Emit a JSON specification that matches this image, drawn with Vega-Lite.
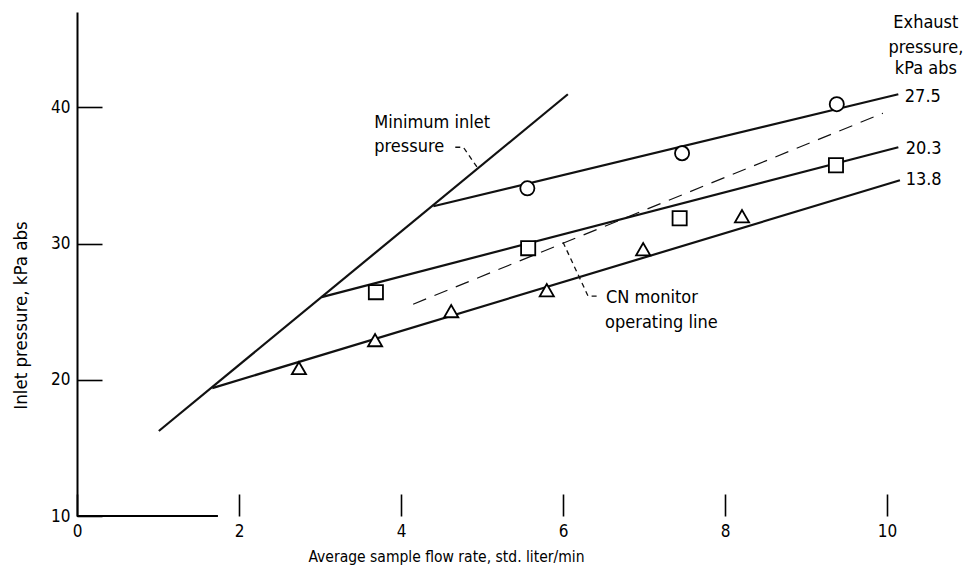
{
  "$schema": "https://vega.github.io/schema/vega-lite/v6.json",
  "width": 891,
  "height": 504,
  "autosize": {"type": "none"},
  "padding": {"left": 77, "top": 12, "right": 1, "bottom": 57},
  "background": "white",
  "config": {"view": {"stroke": null}, "axis": {"grid": false}},
  "datasets": {
    "curves": [
      {"series": "min", "x": 1.01, "y": 16.24},
      {"series": "min", "x": 6.06, "y": 40.96},
      {"series": "27.5", "x": 4.40, "y": 32.74},
      {"series": "27.5", "x": 10.14, "y": 40.96},
      {"series": "20.3", "x": 3.02, "y": 26.07},
      {"series": "20.3", "x": 10.14, "y": 37.07},
      {"series": "13.8", "x": 1.67, "y": 19.39},
      {"series": "13.8", "x": 10.16, "y": 34.65}
    ],
    "operating": [
      {"x": 4.15, "y": 25.55},
      {"x": 9.95, "y": 39.57}
    ],
    "leaders": [
      {"series": "a", "x": 4.67, "y": 37.07},
      {"series": "a", "x": 4.77, "y": 37.07},
      {"series": "a", "x": 4.94, "y": 35.60},
      {"series": "b", "x": 6.00, "y": 30.10},
      {"series": "b", "x": 6.31, "y": 26.14},
      {"series": "b", "x": 6.46, "y": 26.14}
    ],
    "points": [
      {"series": "27.5", "x": 5.56, "y": 34.06},
      {"series": "27.5", "x": 7.47, "y": 36.63},
      {"series": "27.5", "x": 9.38, "y": 40.23},
      {"series": "20.3", "x": 3.69, "y": 26.43},
      {"series": "20.3", "x": 5.57, "y": 29.66},
      {"series": "20.3", "x": 7.44, "y": 31.86},
      {"series": "20.3", "x": 9.37, "y": 35.75},
      {"series": "13.8", "x": 2.74, "y": 20.86},
      {"series": "13.8", "x": 3.68, "y": 22.91},
      {"series": "13.8", "x": 4.62, "y": 25.04},
      {"series": "13.8", "x": 5.80, "y": 26.58},
      {"series": "13.8", "x": 6.99, "y": 29.59},
      {"series": "13.8", "x": 8.21, "y": 32.01}
    ],
    "notes": [
      {"text": "Minimum inlet", "x": 3.67, "y": 38.47},
      {"text": "pressure", "x": 3.67, "y": 36.71},
      {"text": "CN monitor", "x": 6.53, "y": 25.63},
      {"text": "operating line", "x": 6.52, "y": 23.79},
      {"text": "27.5", "x": 10.22, "y": 40.37},
      {"text": "20.3", "x": 10.23, "y": 36.56},
      {"text": "13.8", "x": 10.23, "y": 34.28}
    ],
    "header": [
      {"text": "Exhaust", "x": 10.48, "y": 45.80},
      {"text": "pressure,", "x": 10.48, "y": 43.97},
      {"text": "kPa abs", "x": 10.48, "y": 42.43}
    ],
    "baseline": [
      {"x": 0, "x2": 1.74, "y": 10}
    ]
  },
  "encoding": {
    "x": {
      "field": "x",
      "type": "quantitative",
      "scale": {"domain": [0, 11], "nice": false, "zero": false},
      "axis": {
        "values": [0, 2, 4, 6, 8, 10],
        "domain": false,
        "tickSize": -22,
        "tickWidth": 1.6,
        "tickColor": "black",
        "labelFlush": false,
        "labelFont": "DejaVu Sans Condensed",
        "labelFontSize": 17,
        "labelColor": "black",
        "labelPadding": 29,
        "title": "Average sample flow rate,  std. liter/min",
        "titleFont": "DejaVu Sans Condensed",
        "titleFontSize": 15.5,
        "titleFontWeight": "normal",
        "titleColor": "black",
        "titleX": 369,
        "titleY": 45,
        "titleBaseline": "alphabetic",
        "titleAlign": "center"
      }
    },
    "y": {
      "field": "y",
      "type": "quantitative",
      "scale": {"domain": [10, 47], "nice": false, "zero": false},
      "axis": {
        "values": [10, 20, 30, 40],
        "domain": true,
        "domainColor": "black",
        "domainWidth": 2,
        "tickSize": -25,
        "tickWidth": 1.6,
        "tickColor": "black",
        "labelFont": "DejaVu Sans Condensed",
        "labelFontSize": 17,
        "labelColor": "black",
        "labelPadding": 32,
        "title": "Inlet pressure,  kPa abs",
        "titleFont": "DejaVu Sans Condensed",
        "titleFontSize": 18.5,
        "titleFontWeight": "normal",
        "titleColor": "black",
        "titleX": -57,
        "titleY": 303,
        "titleBaseline": "middle",
        "titleAlign": "center",
        "titleAngle": -90
      }
    }
  },
  "layer": [
    {
      "data": {"name": "baseline"},
      "mark": {"type": "rule", "stroke": "black", "strokeWidth": 2},
      "encoding": {"x2": {"field": "x2"}}
    },
    {
      "data": {"name": "curves"},
      "mark": {"type": "line", "stroke": "#111", "strokeWidth": 2.2},
      "encoding": {"detail": {"field": "series"}}
    },
    {
      "data": {"name": "operating"},
      "mark": {"type": "line", "stroke": "#111", "strokeWidth": 1.2, "strokeDash": [14, 9]},
      "encoding": {}
    },
    {
      "data": {"name": "leaders"},
      "mark": {"type": "line", "stroke": "#111", "strokeWidth": 1.3, "strokeDash": [5, 4]},
      "encoding": {"detail": {"field": "series"}}
    },
    {
      "data": {"name": "points"},
      "mark": {"type": "point", "filled": true, "fill": "white", "stroke": "black", "strokeWidth": 1.8, "size": 200, "opacity": 1},
      "encoding": {
        "shape": {
          "field": "series",
          "type": "nominal",
          "scale": {"domain": ["27.5", "20.3", "13.8"], "range": ["circle", "square", "triangle-up"]},
          "legend": null
        }
      }
    },
    {
      "data": {"name": "notes"},
      "mark": {"type": "text", "align": "left", "baseline": "alphabetic", "font": "DejaVu Sans Condensed", "fontSize": 18, "color": "black"},
      "encoding": {"text": {"field": "text"}}
    },
    {
      "data": {"name": "header"},
      "mark": {"type": "text", "align": "center", "baseline": "alphabetic", "font": "DejaVu Sans Condensed", "fontSize": 18, "color": "black"},
      "encoding": {"text": {"field": "text"}}
    }
  ]
}
